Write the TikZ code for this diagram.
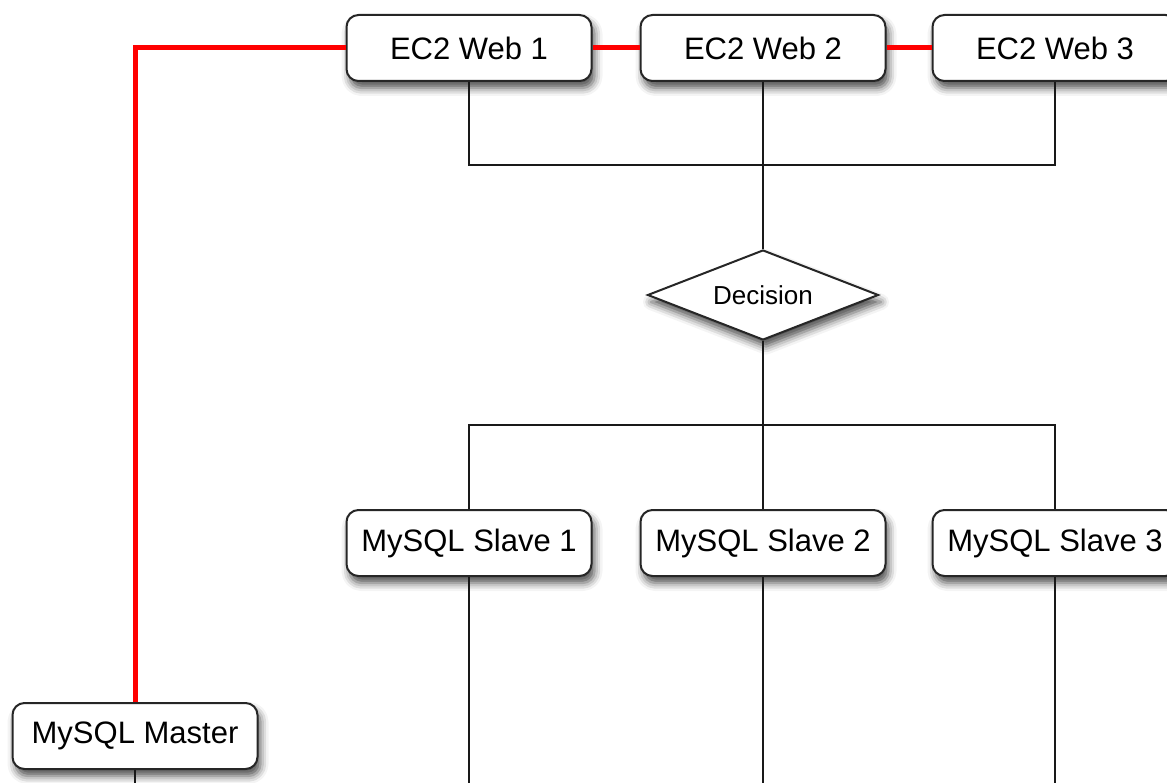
\documentclass[tikz,border=0pt]{standalone}
\usepackage{fontspec}
\setmainfont{Liberation Sans}
\usetikzlibrary{shapes.geometric,shadows.blur}
\begin{document}
\begin{tikzpicture}[x=1pt,y=-1pt,
  box/.style={draw=black!85,line width=2pt,fill=white,rounded corners=12pt,
    minimum width=245pt,minimum height=66pt,inner sep=0pt,
    font=\fontsize{31}{36}\selectfont,
    blur shadow={shadow xshift=3pt,shadow yshift=-7pt,shadow blur radius=8pt,shadow opacity=70}},
  decbox/.style={draw=black!85,line width=2pt,fill=white,shape=diamond,aspect=2.55,
    minimum width=231pt,minimum height=90pt,inner sep=0pt,
    font=\fontsize{26}{30}\selectfont,
    blur shadow={shadow xshift=3pt,shadow yshift=-7pt,shadow blur radius=8pt,shadow opacity=70}},
  wire/.style={draw=black!90,line width=1.6pt},
  redwire/.style={draw=red,line width=5pt}]
\useasboundingbox (0,0) rectangle (1167,783);
\node[box] (web1) at (469,48) {EC2 Web 1};
\node[box] (web2) at (763,48) {EC2 Web 2};
\node[box] (web3) at (1055,48) {EC2 Web 3};
\node[decbox] (dec) at (763,295) {Decision};
\node[box] (slave1) at (469,543) {MySQL Slave 1};
\node[box] (slave2) at (763,543) {MySQL Slave 2};
\node[box] (slave3) at (1055,543) {MySQL Slave 3};
\node[box] (master) at (135,736) {MySQL Master};
\coordinate (j1) at (763,165);
\coordinate (j2) at (763,425);
\coordinate (e1) at (469,783);
\coordinate (e2) at (763,783);
\coordinate (e3) at (1055,783);
\coordinate (e4) at (135,783);
\draw[redwire] (web1.west) -| (master.north);
\draw[redwire] (web1.east) -- (web2.west);
\draw[redwire] (web2.east) -- (web3.west);
\draw[wire] (web1.south) |- (j1) -| (web3.south);
\draw[wire] (web2.south) -- (dec.north);
\draw[wire] (slave1.north) |- (j2) -| (slave3.north);
\draw[wire] (dec.south) -- (slave2.north);
\draw[wire] (slave1.south) -- (e1);
\draw[wire] (slave2.south) -- (e2);
\draw[wire] (slave3.south) -- (e3);
\draw[wire] (master.south) -- (e4);
\end{tikzpicture}
\end{document}
